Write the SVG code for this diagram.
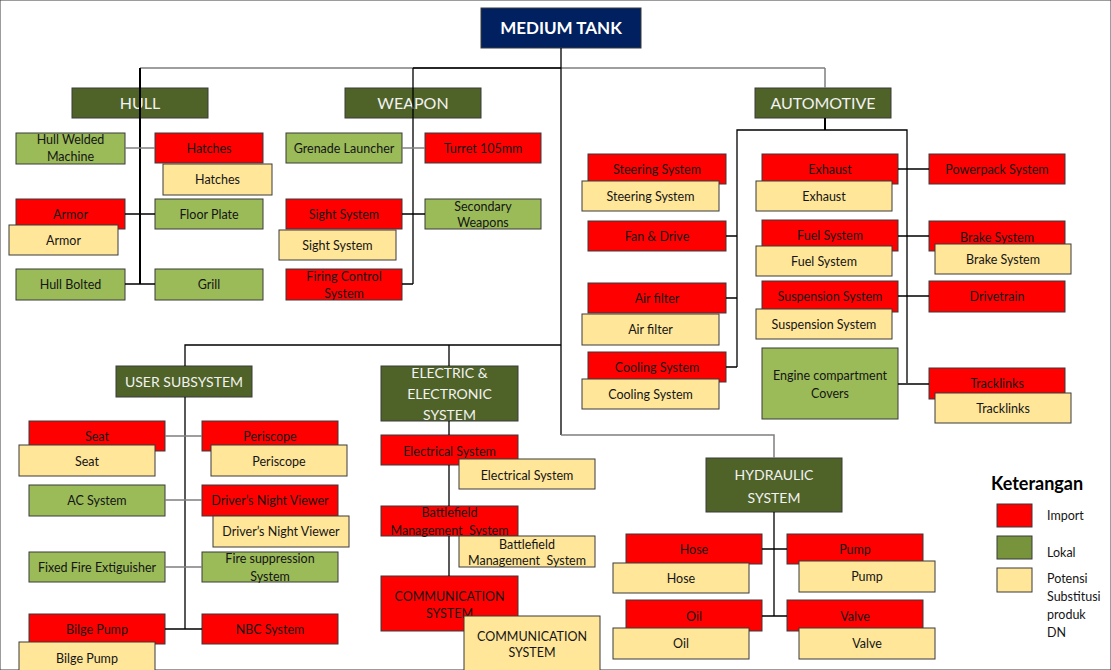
<svg xmlns="http://www.w3.org/2000/svg" width="1111" height="670" viewBox="0 0 1111 670">
<style>
rect{stroke:#3a3a3a;stroke-width:1}
.r{fill:#FF0000}
.g{fill:#9BBB59}
.y{fill:#FFE699}
.h{fill:#4F6228}
.n{fill:#002060}
text{font-family:Lato,"Liberation Sans",sans-serif;font-size:12.5px;fill:#151515;text-anchor:middle}
.ht{font-size:16px;fill:#F2F2F2}
.hs{font-size:14px;fill:#F2F2F2}
.top{font-size:17px;font-weight:bold;fill:#fff}
.lt{text-anchor:start;font-size:12.5px}
.kt{text-anchor:start;font-size:18px;font-weight:bold;fill:#000}
.k{stroke:#000;stroke-width:1.3;fill:none}
.kk{stroke:#000;stroke-width:2;fill:none}
.gr{stroke:#7f7f7f;stroke-width:1.5;fill:none}
</style>
<rect width="1111" height="670" fill="#fff" stroke="none"/>

<g id="medium-tank"><rect class="n" x="481" y="8" width="160" height="40"/><text class="top" x="561" y="34">MEDIUM TANK</text></g>

<g id="hull"><rect class="h" x="72" y="88" width="136" height="30"/><text class="ht" x="140" y="109">HULL</text></g>
<g id="weapon"><rect class="h" x="345" y="88" width="136" height="30"/><text class="ht" x="413" y="109">WEAPON</text></g>
<g id="automotive"><rect class="h" x="755" y="88" width="136" height="30"/><text class="ht" x="823" y="109">AUTOMOTIVE</text></g>

<g id="hull-welded"><rect class="g" x="16" y="133" width="109" height="31"/><text x="70.5" y="144">Hull Welded</text><text x="70.5" y="161">Machine</text></g>
<g id="hatches"><rect class="r" x="155" y="133" width="108" height="30"/><text x="209" y="152.5">Hatches</text><rect class="y" x="163" y="164" width="109" height="31"/><text x="217.5" y="184">Hatches</text></g>
<g id="armor"><rect class="r" x="16" y="199" width="109" height="30"/><text x="70.5" y="218.5">Armor</text><rect class="y" x="9" y="225" width="109" height="30"/><text x="63.5" y="244.5">Armor</text></g>
<g id="floor-plate"><rect class="g" x="155" y="199" width="108" height="30"/><text x="209" y="218.5">Floor Plate</text></g>
<g id="hull-bolted"><rect class="g" x="16" y="269" width="109" height="31"/><text x="70.5" y="289">Hull Bolted</text></g>
<g id="grill"><rect class="g" x="155" y="269" width="108" height="31"/><text x="209" y="289">Grill</text></g>

<g id="grenade"><rect class="g" x="286" y="133" width="116" height="30"/><text x="344" y="152.5">Grenade Launcher</text></g>
<g id="turret"><rect class="r" x="425" y="133" width="116" height="30"/><text x="483" y="152.5">Turret 105mm</text></g>
<g id="sight"><rect class="r" x="286" y="199" width="116" height="30"/><text x="344" y="218.5">Sight System</text><rect class="y" x="279" y="230" width="117" height="30"/><text x="337.5" y="249.5">Sight System</text></g>
<g id="secondary"><rect class="g" x="425" y="199" width="116" height="30"/><text x="483" y="210.5">Secondary</text><text x="483" y="226.5">Weapons</text></g>
<g id="firing"><rect class="r" x="286" y="269" width="116" height="31"/><text x="344" y="280.5">Firing Control</text><text x="344" y="297.5">System</text></g>

<g id="steering"><rect class="r" x="588" y="154" width="138" height="30"/><text x="657" y="174">Steering System</text><rect class="y" x="582" y="181" width="137" height="30"/><text x="650.5" y="200.5">Steering System</text></g>
<g id="fan"><rect class="r" x="588" y="221" width="138" height="30"/><text x="657" y="240.5">Fan &amp; Drive</text></g>
<g id="airfilter"><rect class="r" x="588" y="283" width="138" height="30"/><text x="657" y="302.5">Air filter</text><rect class="y" x="582" y="314" width="137" height="31"/><text x="650.5" y="334">Air filter</text></g>
<g id="cooling"><rect class="r" x="588" y="352" width="138" height="30"/><text x="657" y="371.5">Cooling System</text><rect class="y" x="582" y="379" width="137" height="30"/><text x="650.5" y="398.5">Cooling System</text></g>
<g id="exhaust"><rect class="r" x="762" y="154" width="136" height="30"/><text x="830" y="174">Exhaust</text><rect class="y" x="756" y="181" width="136" height="30"/><text x="824" y="200.5">Exhaust</text></g>
<g id="powerpack"><rect class="r" x="929" y="154" width="136" height="30"/><text x="997" y="173.5">Powerpack System</text></g>
<g id="fuel"><rect class="r" x="762" y="220" width="136" height="31"/><text x="830" y="240">Fuel System</text><rect class="y" x="756" y="246" width="136" height="30"/><text x="824" y="265.5">Fuel System</text></g>
<g id="brake"><rect class="r" x="929" y="221" width="136" height="30"/><text x="997" y="241.5">Brake System</text><rect class="y" x="935" y="244" width="136" height="30"/><text x="1003" y="263.5">Brake System</text></g>
<g id="suspension"><rect class="r" x="762" y="281" width="136" height="31"/><text x="830" y="301">Suspension System</text><rect class="y" x="756" y="309" width="136" height="30"/><text x="824" y="328.5">Suspension System</text></g>
<g id="drivetrain"><rect class="r" x="929" y="281" width="136" height="31"/><text x="997" y="301">Drivetrain</text></g>
<g id="engine"><rect class="g" x="762" y="348" width="136" height="71"/><text x="830" y="379.5">Engine compartment</text><text x="830" y="397.5">Covers</text></g>
<g id="tracklinks"><rect class="r" x="929" y="368" width="136" height="31"/><text x="997" y="387.5">Tracklinks</text><rect class="y" x="935" y="393" width="136" height="30"/><text x="1003" y="412.5">Tracklinks</text></g>

<g id="user"><rect class="h" x="116" y="366" width="136" height="31"/><text class="hs" x="184" y="386.5">USER SUBSYSTEM</text></g>
<g id="seat"><rect class="r" x="29" y="421" width="136" height="30"/><text x="97" y="440.5">Seat</text><rect class="y" x="19" y="445" width="136" height="31"/><text x="87" y="465.5">Seat</text></g>
<g id="periscope"><rect class="r" x="202" y="421" width="136" height="30"/><text x="270" y="440.5">Periscope</text><rect class="y" x="211" y="445" width="136" height="31"/><text x="279" y="465.5">Periscope</text></g>
<g id="ac"><rect class="g" x="29" y="485" width="136" height="31"/><text x="97" y="504.5">AC System</text></g>
<g id="night"><rect class="r" x="202" y="485" width="136" height="31"/><text x="270" y="504.5">Driver’s Night Viewer</text><rect class="y" x="213" y="516" width="136" height="31"/><text x="281" y="536">Driver’s Night Viewer</text></g>
<g id="fixedfire"><rect class="g" x="29" y="552" width="136" height="30"/><text x="97" y="571.5">Fixed Fire Extiguisher</text></g>
<g id="firesupp"><rect class="g" x="202" y="552" width="136" height="30"/><text x="270" y="562.5">Fire suppression</text><text x="270" y="580.5">System</text></g>
<g id="bilge"><rect class="r" x="29" y="614" width="136" height="30"/><text x="97" y="633.5">Bilge Pump</text><rect class="y" x="19" y="642" width="136" height="31"/><text x="87" y="662.5">Bilge Pump</text></g>
<g id="nbc"><rect class="r" x="202" y="614" width="136" height="30"/><text x="270" y="633.5">NBC System</text></g>

<g id="electric"><rect class="h" x="381" y="366" width="137" height="55"/><text class="hs" x="449.5" y="378">ELECTRIC &amp;</text><text class="hs" x="449.5" y="399">ELECTRONIC</text><text class="hs" x="449.5" y="420">SYSTEM</text></g>
<g id="electrical"><rect class="r" x="381" y="435" width="137" height="30"/><text x="449.5" y="455.5">Electrical System</text><rect class="y" x="459" y="459" width="136" height="30"/><text x="527" y="479.5">Electrical System</text></g>
<g id="bms"><rect class="r" x="381" y="506" width="137" height="30"/><text x="449.5" y="516.5">Battlefield</text><text x="449.5" y="534.5" xml:space="preserve">Management  System</text><rect class="y" x="459" y="536" width="136" height="31"/><text x="527" y="548.5">Battlefield</text><text x="527" y="564.5" xml:space="preserve">Management  System</text></g>
<g id="comm"><rect class="r" x="381" y="576" width="137" height="55"/><text x="449.5" y="600.5">COMMUNICATION</text><text x="449.5" y="617.5">SYSTEM</text><rect class="y" x="464" y="616" width="136" height="56"/><text x="532" y="640.5">COMMUNICATION</text><text x="532" y="656.5">SYSTEM</text></g>

<g id="hydraulic"><rect class="h" x="706" y="458" width="136" height="54"/><text class="hs" x="774" y="480">HYDRAULIC</text><text class="hs" x="774" y="503">SYSTEM</text></g>
<g id="hose"><rect class="r" x="626" y="534" width="136" height="30"/><text x="694" y="553.5">Hose</text><rect class="y" x="613" y="563" width="136" height="30"/><text x="681" y="582.5">Hose</text></g>
<g id="pump"><rect class="r" x="787" y="534" width="136" height="30"/><text x="855" y="553.5">Pump</text><rect class="y" x="799" y="561" width="136" height="31"/><text x="867" y="580.5">Pump</text></g>
<g id="oil"><rect class="r" x="626" y="600" width="136" height="31"/><text x="694" y="620.5">Oil</text><rect class="y" x="613" y="628" width="136" height="31"/><text x="681" y="647.5">Oil</text></g>
<g id="valve"><rect class="r" x="787" y="600" width="136" height="31"/><text x="855" y="620.5">Valve</text><rect class="y" x="799" y="628" width="136" height="31"/><text x="867" y="647.5">Valve</text></g>

<g id="legend">
<text class="kt" x="991" y="490">Keterangan</text>
<rect class="r" x="997" y="504" width="35" height="23"/><text class="lt" x="1047" y="520">Import</text>
<rect x="997" y="536" width="35" height="23" fill="#77933C"/><text class="lt" x="1047" y="557">Lokal</text>
<rect class="y" x="997" y="568" width="35" height="24"/><text class="lt" x="1047" y="583">Potensi</text><text class="lt" x="1047" y="601">Substitusi</text><text class="lt" x="1047" y="619">produk</text><text class="lt" x="1047" y="637">DN</text>
</g>

<g id="connectors">
<path class="gr" d="M140,68H825M825,68V88"/>
<path class="k" d="M561,48V435M413,68H561"/>
<path class="kk" d="M140,68V284"/>
<path class="gr" d="M125,148H155"/>
<path class="k" d="M125,214H155M125,284H155"/>
<path class="k" d="M413,68V284M402,214H425M402,284H413"/>
<path class="gr" d="M402,148H425"/>
<path class="kk" d="M825,118V130"/>
<path class="k" d="M737,367V130H907V383M726,236H737M726,298H737M726,367H737M898,169H929M898,236H929M898,296H929M898,384H929"/>
<path class="k" d="M185,366V345H561M449,345V366M185,397V629M165,629H202"/>
<path class="gr" d="M165,436H202M165,500H202M165,567H202"/>
<path class="k" d="M449,421V435M449,465V506M449,536V576"/>
<path class="gr" d="M561,435H774V458"/>
<path class="k" d="M774,512V616M762,549H787M762,616H787"/>
</g>
</svg>
